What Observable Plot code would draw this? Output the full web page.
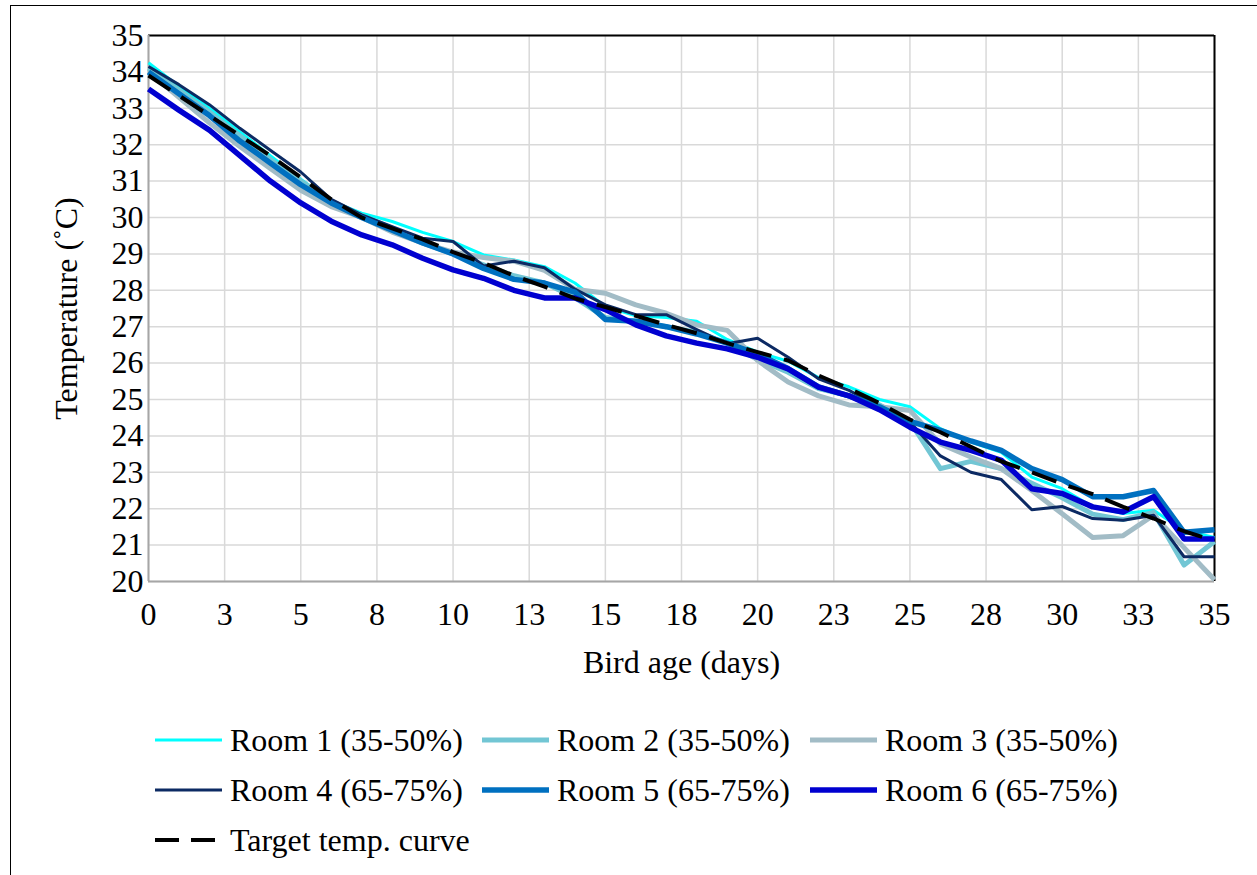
<!DOCTYPE html>
<html>
<head>
<meta charset="utf-8">
<script src="https://cdn.jsdelivr.net/npm/d3@7"></script>
<script src="https://cdn.jsdelivr.net/npm/@observablehq/plot@0.6"></script>
<style>
  html, body { margin: 0; padding: 0; background: #fff; }
  #wrap { position: relative; width: 1257px; height: 875px; overflow: hidden; background: #fff;
          font-family: "Liberation Serif", "Times New Roman", serif; color: #000; }
  #border { position: absolute; left: 10px; top: 5px; right: -5px; bottom: -5px;
            border-left: 1.5px solid #000; border-top: 1.5px solid #000; pointer-events: none; }
  #chart { position: absolute; left: 0; top: 0; }
  .leg { position: absolute; display: flex; align-items: center; font-size: 32px; line-height: 1; white-space: nowrap; }
  .leg svg { margin-right: 7px; }
</style>
</head>
<body>
<div id="wrap">
  <div id="chart"></div>
  <div id="legend"></div>
  <div id="border"></div>
</div>
<script>
// ---- data ----
const days = [0,1,2,3,4,5,6,7,8,9,10,11,12,13,14,15,16,17,18,19,20,21,22,23,24,25,26,27,28,29,30,31,32,33,34,35];
const room1 = [34.25,33.6,33.0,32.35,31.7,31.05,30.45,30.12,29.89,29.59,29.34,28.97,28.83,28.65,28.2,27.55,27.3,27.25,27.15,26.65,26.3,26.05,25.6,25.35,25.0,24.8,24.2,23.83,23.55,22.87,22.55,22.05,21.87,21.96,21.4,21.21];
const room2 = [34.1,33.5,32.9,32.25,31.6,31.0,30.45,30.05,29.7,29.3,29.0,28.7,28.4,28.2,27.8,27.25,27.15,27.0,26.85,26.55,26.1,25.75,25.3,25.1,24.85,24.4,23.1,23.3,23.1,22.7,22.3,21.85,21.7,21.9,20.45,21.1];
const room3 = [34.0,33.3,32.6,31.95,31.35,30.75,30.3,30.0,29.6,29.3,29.05,28.9,28.8,28.55,28.03,27.92,27.6,27.37,27.05,26.9,26.07,25.48,25.1,24.85,24.8,24.7,23.78,23.42,23.1,22.5,21.86,21.21,21.26,21.82,20.93,20.05];
const room4 = [34.15,33.65,33.1,32.45,31.85,31.25,30.5,30.07,29.75,29.43,29.34,28.67,28.8,28.62,28.03,27.6,27.33,27.33,26.92,26.53,26.68,26.16,25.57,25.25,24.8,24.38,23.45,23.0,22.8,21.97,22.06,21.73,21.68,21.82,20.68,20.68];
const room5 = [34.0,33.4,32.8,32.1,31.5,30.9,30.4,30.0,29.65,29.3,29.0,28.6,28.3,28.2,27.95,27.2,27.15,27.0,26.8,26.55,26.25,25.85,25.35,25.1,24.8,24.4,24.15,23.86,23.6,23.1,22.8,22.33,22.33,22.5,21.35,21.42];
const room6 = [33.53,32.95,32.4,31.7,31.0,30.4,29.9,29.52,29.25,28.88,28.56,28.33,28.0,27.79,27.79,27.47,27.05,26.75,26.55,26.39,26.16,25.84,25.34,25.1,24.72,24.24,23.83,23.6,23.33,22.55,22.42,22.05,21.91,22.33,21.17,21.17];
const target = [33.9,33.35,32.8,32.25,31.7,31.1,30.5,30.0,29.7,29.4,29.05,28.75,28.4,28.1,27.78,27.54,27.3,27.05,26.82,26.55,26.3,26.07,25.66,25.3,24.9,24.45,24.1,23.7,23.3,23.0,22.68,22.4,22.05,21.73,21.38,21.12];

const seriesNames = ["Room 1 (35-50%)","Room 2 (35-50%)","Room 3 (35-50%)","Room 4 (65-75%)","Room 5 (65-75%)","Room 6 (65-75%)","Target temp. curve"];
const seriesValues = [room1, room2, room3, room4, room5, room6, target];

const yTicks = [20,21,22,23,24,25,26,27,28,29,30,31,32,33,34,35];
const xTicks = [0,2.5,5,7.5,10,12.5,15,17.5,20,22.5,25,27.5,30,32.5,35];
const xTickLabels = ["0","3","5","8","10","13","15","18","20","23","25","28","30","33","35"];
const xTitle = "Bird age (days)";
const yTitle = "Temperature (˚C)";

// ---- styles ----
const styles = [
  {stroke: "#00ffff", strokeWidth: 3},
  {stroke: "#72c6d4", strokeWidth: 5},
  {stroke: "#a2bcc6", strokeWidth: 5},
  {stroke: "#0c2a63", strokeWidth: 3},
  {stroke: "#0070c0", strokeWidth: 5.5},
  {stroke: "#0000d0", strokeWidth: 5.5},
  {stroke: "#000000", strokeWidth: 4, strokeDasharray: "26,13"}
];

const rows = [];
seriesNames.forEach((name, s) => {
  seriesValues[s].forEach((v, i) => rows.push({series: name, day: days[i], temp: v}));
});

const labelMap = new Map(xTicks.map((t, i) => [t, xTickLabels[i]]));

const lineMarks = seriesNames.map((name, s) =>
  Plot.line(rows.filter(r => r.series === name), {
    x: "day", y: "temp",
    stroke: styles[s].stroke, strokeWidth: styles[s].strokeWidth,
    strokeDasharray: styles[s].strokeDasharray,
    strokeLinejoin: "round", strokeLinecap: "butt", curve: "linear"
  })
);

const FS = 32;
const chart = Plot.plot({
  width: 1257, height: 700,
  marginLeft: 148, marginRight: 43, marginTop: 35, marginBottom: 119,
  x: {domain: [0, 35]},
  y: {domain: [20, 35]},
  style: {fontFamily: "'Liberation Serif', 'Times New Roman', serif", fontSize: FS + "px", color: "#000", background: "transparent", overflow: "visible"},
  marks: [
    Plot.gridY(yTicks, {stroke: "#d9d9d9", strokeOpacity: 1, strokeWidth: 1.5}),
    Plot.gridX(xTicks, {stroke: "#d9d9d9", strokeOpacity: 1, strokeWidth: 1.5}),
    Plot.ruleX([35], {stroke: "#000", strokeWidth: 2}),
    Plot.ruleY([35], {stroke: "#000", strokeWidth: 2}),
    Plot.ruleX([0], {stroke: "#a6a6a6", strokeWidth: 2}),
    Plot.ruleY([20], {stroke: "#a6a6a6", strokeWidth: 2}),
    ...lineMarks,
    Plot.axisY(yTicks, {tickSize: 0, tickPadding: 5, fontSize: FS, label: null}),
    Plot.axisX(xTicks, {tickSize: 0, tickPadding: 21, fontSize: FS, label: null, tickFormat: d => labelMap.get(d)}),
    Plot.text([yTitle], {frameAnchor: "left", dx: -82, rotate: -90, text: d => d, fontSize: FS, textAnchor: "middle", lineAnchor: "middle"}),
    Plot.text([xTitle], {frameAnchor: "bottom", dy: 81, text: d => d, fontSize: FS, textAnchor: "middle", lineAnchor: "middle"})
  ]
});
document.getElementById("chart").appendChild(chart);

// ---- legend (HTML, below the SVG area) ----
const legendPos = [
  {x: 155, y: 740}, {x: 482, y: 740}, {x: 810, y: 740},
  {x: 155, y: 790}, {x: 482, y: 790}, {x: 810, y: 790},
  {x: 155, y: 840}
];
const legend = document.getElementById("legend");
seriesNames.forEach((name, s) => {
  const div = document.createElement("div");
  div.className = "leg";
  div.style.left = legendPos[s].x + "px";
  div.style.top = (legendPos[s].y - 16) + "px";
  div.style.height = "32px";
  const st = styles[s];
  const dash = st.strokeDasharray ? ` stroke-dasharray="24,12"` : "";
  div.innerHTML = `<svg width="68" height="32"><line x1="0" y1="16" x2="67" y2="16" stroke="${st.stroke}" stroke-width="${st.strokeWidth}"${dash}/></svg><span>${name}</span>`;
  legend.appendChild(div);
});
</script>
</body>
</html>
